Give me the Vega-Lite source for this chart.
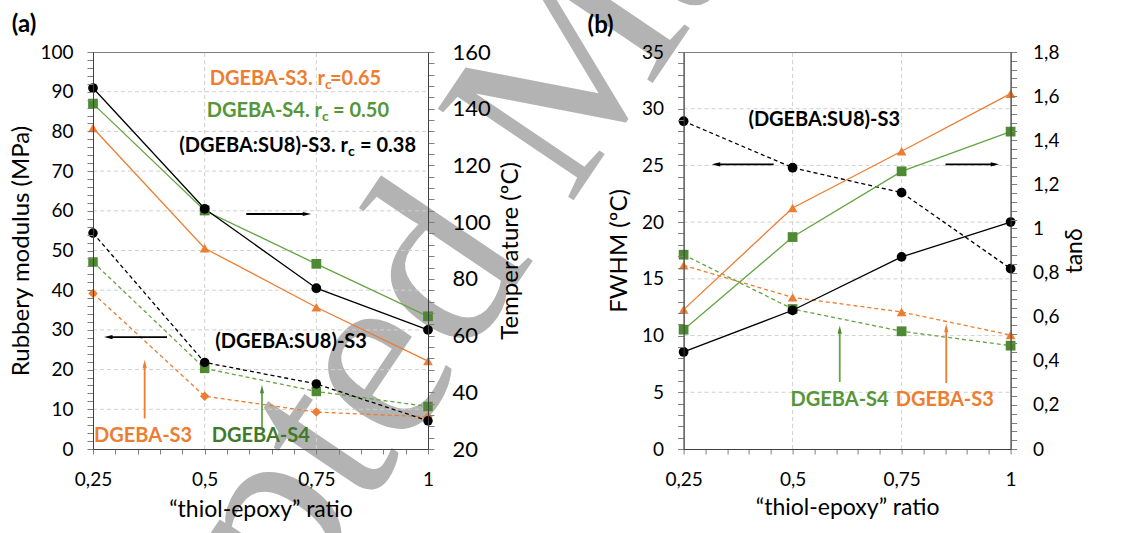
{
  "$schema": "https://vega.github.io/schema/vega-lite/v6.json",
  "background": "white",
  "autosize": {"type": "none"},
  "padding": {"left": 93, "top": 52, "right": 1030, "bottom": 481},
  "bounds": "flush",
  "spacing": 255.6,
  "datasets": {
    "wm": [{"x": 0.0568, "y": -149.0, "label": "Accepted Manuscript"}],
    "aTag": [{"x": 0.25, "y": 100, "label": "(a)"}],
    "bTag": [{"x": 0.25, "y": 35, "label": "(b)"}],
    "aGrid": [
      {"x": 0.25, "x2": 1, "y": 10, "y2": 10}, {"x": 0.25, "x2": 1, "y": 20, "y2": 20}, {"x": 0.25, "x2": 1, "y": 30, "y2": 30},
      {"x": 0.25, "x2": 1, "y": 40, "y2": 40}, {"x": 0.25, "x2": 1, "y": 50, "y2": 50}, {"x": 0.25, "x2": 1, "y": 60, "y2": 60},
      {"x": 0.25, "x2": 1, "y": 70, "y2": 70}, {"x": 0.25, "x2": 1, "y": 80, "y2": 80}, {"x": 0.25, "x2": 1, "y": 90, "y2": 90},
      {"x": 0.5, "x2": 0.5, "y": 0, "y2": 100}, {"x": 0.75, "x2": 0.75, "y": 0, "y2": 100}
    ],
    "bGrid": [
      {"x": 0.25, "x2": 1, "y": 5, "y2": 5}, {"x": 0.25, "x2": 1, "y": 10, "y2": 10}, {"x": 0.25, "x2": 1, "y": 15, "y2": 15},
      {"x": 0.25, "x2": 1, "y": 20, "y2": 20}, {"x": 0.25, "x2": 1, "y": 25, "y2": 25}, {"x": 0.25, "x2": 1, "y": 30, "y2": 30},
      {"x": 0.5, "x2": 0.5, "y": 0, "y2": 35}, {"x": 0.75, "x2": 0.75, "y": 0, "y2": 35}
    ],
    "aE": [
      {"x": 0.25, "y": 39.2, "grp": "S3"}, {"x": 0.5, "y": 13.3, "grp": "S3"}, {"x": 0.75, "y": 9.3, "grp": "S3"}, {"x": 1, "y": 8.1, "grp": "S3"},
      {"x": 0.25, "y": 47.1, "grp": "S4"}, {"x": 0.5, "y": 20.3, "grp": "S4"}, {"x": 0.75, "y": 14.5, "grp": "S4"}, {"x": 1, "y": 10.7, "grp": "S4"},
      {"x": 0.25, "y": 54.4, "grp": "SU8"}, {"x": 0.5, "y": 21.8, "grp": "SU8"}, {"x": 0.75, "y": 16.4, "grp": "SU8"}, {"x": 1, "y": 7.1, "grp": "SU8"}
    ],
    "aT": [
      {"x": 0.25, "y": 133.2, "grp": "S3"}, {"x": 0.5, "y": 90.8, "grp": "S3"}, {"x": 0.75, "y": 70.0, "grp": "S3"}, {"x": 1, "y": 51.0, "grp": "S3"},
      {"x": 0.25, "y": 141.8, "grp": "S4"}, {"x": 0.5, "y": 104.1, "grp": "S4"}, {"x": 0.75, "y": 85.3, "grp": "S4"}, {"x": 1, "y": 66.8, "grp": "S4"},
      {"x": 0.25, "y": 147.3, "grp": "SU8"}, {"x": 0.5, "y": 104.7, "grp": "SU8"}, {"x": 0.75, "y": 76.7, "grp": "SU8"}, {"x": 1, "y": 62.0, "grp": "SU8"}
    ],
    "aLbl": [
      {"x": 0.7694, "y": 93.2, "main": "DGEBA-S3. r", "sub": "c", "grp": "S3"},
      {"x": 0.7627, "y": 85.2, "main": "DGEBA-S4. r", "sub": "c", "grp": "S4t"},
      {"x": 0.8209, "y": 76.2, "main": "(DGEBA:SU8)-S3. r", "sub": "c", "grp": "SU8"}
    ],
    "aVal": [
      {"x": 0.7806, "y": 93.2, "val": "=0.65", "grp": "S3"},
      {"x": 0.7873, "y": 85.2, "val": "=\u00a00.50", "grp": "S4t"},
      {"x": 0.8477, "y": 76.2, "val": "=\u00a00.38", "grp": "SU8"}
    ],
    "aTxt": [
      {"x": 0.6935, "y": 26.9, "label": "(DGEBA:SU8)-S3", "grp": "SU8"},
      {"x": 0.3622, "y": 3.35, "label": "DGEBA-S3", "grp": "S3"},
      {"x": 0.6257, "y": 3.35, "label": "DGEBA-S4", "grp": "S4dk"}
    ],
    "aArr": [
      {"x": 0.5932, "y": 59.2, "x2": 0.729, "y2": 59.2, "grp": "SU8"},
      {"x": 0.4157, "y": 28.2, "x2": 0.2843, "y2": 28.2, "grp": "SU8"},
      {"x": 0.3656, "y": 7.7, "x2": 0.3656, "y2": 21.4, "grp": "S3"},
      {"x": 0.6283, "y": 5.2, "x2": 0.6283, "y2": 15.1, "grp": "S4"}
    ],
    "aHead": [
      {"x": 0.729, "y": 59.2, "dir": "right", "grp": "SU8"},
      {"x": 0.2843, "y": 28.2, "dir": "left", "grp": "SU8"},
      {"x": 0.3656, "y": 21.4, "dir": "up", "grp": "S3"},
      {"x": 0.6283, "y": 15.1, "dir": "up", "grp": "S4"}
    ],
    "bF": [
      {"x": 0.25, "y": 16.19, "grp": "S3"}, {"x": 0.5, "y": 13.37, "grp": "S3"}, {"x": 0.75, "y": 12.08, "grp": "S3"}, {"x": 1, "y": 10.05, "grp": "S3"},
      {"x": 0.25, "y": 17.13, "grp": "S4"}, {"x": 0.5, "y": 12.34, "grp": "S4"}, {"x": 0.75, "y": 10.38, "grp": "S4"}, {"x": 1, "y": 9.11, "grp": "S4"},
      {"x": 0.25, "y": 28.9, "grp": "SU8"}, {"x": 0.5, "y": 24.8, "grp": "SU8"}, {"x": 0.75, "y": 22.6, "grp": "SU8"}, {"x": 1, "y": 15.9, "grp": "SU8"}
    ],
    "bT": [
      {"x": 0.25, "y": 0.632, "grp": "S3"}, {"x": 0.5, "y": 1.093, "grp": "S3"}, {"x": 0.75, "y": 1.350, "grp": "S3"}, {"x": 1, "y": 1.611, "grp": "S3"},
      {"x": 0.25, "y": 0.541, "grp": "S4"}, {"x": 0.5, "y": 0.961, "grp": "S4"}, {"x": 0.75, "y": 1.259, "grp": "S4"}, {"x": 1, "y": 1.439, "grp": "S4"},
      {"x": 0.25, "y": 0.440, "grp": "SU8"}, {"x": 0.5, "y": 0.629, "grp": "SU8"}, {"x": 0.75, "y": 0.871, "grp": "SU8"}, {"x": 1, "y": 1.029, "grp": "SU8"}
    ],
    "bTxt": [
      {"x": 0.5725, "y": 28.98, "label": "(DGEBA:SU8)-S3", "grp": "SU8"},
      {"x": 0.6079, "y": 4.29, "label": "DGEBA-S4", "grp": "S4t"},
      {"x": 0.849, "y": 4.29, "label": "DGEBA-S3", "grp": "S3"}
    ],
    "bArr": [
      {"x": 0.4566, "y": 25.1, "x2": 0.3244, "y2": 25.1, "grp": "SU8"},
      {"x": 0.8508, "y": 25.1, "x2": 0.9639, "y2": 25.1, "grp": "SU8"},
      {"x": 0.6081, "y": 5.91, "x2": 0.6081, "y2": 10.52, "grp": "S4"},
      {"x": 0.8524, "y": 5.82, "x2": 0.8524, "y2": 10.67, "grp": "S3"}
    ],
    "bHead": [
      {"x": 0.3244, "y": 25.1, "dir": "left", "grp": "SU8"},
      {"x": 0.9639, "y": 25.1, "dir": "right", "grp": "SU8"},
      {"x": 0.6081, "y": 10.52, "dir": "up", "grp": "S4"},
      {"x": 0.8524, "y": 10.67, "dir": "up", "grp": "S3"}
    ]
  },
  "hconcat": [
    {
      "width": 335,
      "height": 397,
      "encoding": {
        "x": {
          "field": "x", "type": "quantitative",
          "scale": {"domain": [0.25, 1], "nice": false, "zero": false},
          "axis": {
            "zindex": 1,
            "title": "“thiol-epoxy” ratio",
            "values": [0.25, 0.3, 0.35, 0.4, 0.45, 0.5, 0.55, 0.6, 0.65, 0.7, 0.75, 0.8, 0.85, 0.9, 0.95, 1],
            "labelExpr": "indexof([0.25,0.5,0.75,1], datum.value) >= 0 ? replace(format(datum.value, '.2~f'), '.', ',') : ''",
            "grid": false, "tickSize": 5, "labelPadding": 16, "labelFontSize": 19, "titleFontSize": 23, "titlePadding": 9
          }
        }
      },
      "layer": [
        {
          "encoding": {
            "y": {
              "field": "y", "type": "quantitative",
              "scale": {"domain": [0, 100], "nice": false, "zero": false},
              "axis": {
                "zindex": 1,
                "title": "Rubbery modulus (MPa)", "orient": "left",
                "values": [0,2,4,6,8,10,12,14,16,18,20,22,24,26,28,30,32,34,36,38,40,42,44,46,48,50,52,54,56,58,60,62,64,66,68,70,72,74,76,78,80,82,84,86,88,90,92,94,96,98,100],
                "labelExpr": "datum.value % 10 === 0 ? format(datum.value, 'd') : ''",
                "grid": false,
                "tickSize": 6, "labelPadding": 14, "labelFontSize": 19, "titleFontSize": 24, "titlePadding": 6
              }
            }
          },
          "layer": [
            {
              "data": {"name": "wm"},
              "mark": {"type": "text", "align": "left", "baseline": "alphabetic", "angle": -56, "fontSize": 250, "font": "Liberation Serif", "color": "#b3b3b3"},
              "encoding": {"text": {"field": "label"}}
            },
            {
              "data": {"name": "aGrid"},
              "mark": {"type": "rule", "strokeWidth": 1, "strokeDash": [4, 3], "color": "#d0d0d0"},
              "encoding": {"x2": {"field": "x2"}, "y2": {"field": "y2"}}
            },
            {
              "data": {"name": "aTag"},
              "mark": {"type": "text", "align": "center", "baseline": "middle", "fontSize": 24, "fontWeight": "bold", "font": "Lato", "dx": -69, "dy": -27, "color": "#000000"},
              "encoding": {"text": {"field": "label"}}
            },
            {
              "data": {"name": "aE"},
              "mark": {"type": "line", "strokeDash": [4, 3], "strokeWidth": 1.3},
              "encoding": {"color": {"field": "grp", "type": "nominal", "scale": {"domain": ["S3", "S4", "SU8", "S4dk", "S4t"], "range": ["#ED7D31", "#66A443", "#000000", "#3F7A2A", "#559638"]}, "legend": null}}
            },
            {
              "data": {"name": "aE"},
              "mark": {"type": "point", "filled": true, "opacity": 1, "size": 90},
              "encoding": {
                "fill": {"field": "grp", "type": "nominal", "scale": {"domain": ["S3", "S4", "SU8"], "range": ["#ED7D31", "#4E8A32", "#000000"]}, "legend": null},
                "shape": {"field": "grp", "type": "nominal", "scale": {"domain": ["S3", "S4", "SU8"], "range": ["diamond", "square", "circle"]}, "legend": null}
              }
            },
            {
              "data": {"name": "aArr"},
              "mark": {"type": "rule", "strokeWidth": 1.8},
              "encoding": {
                "x2": {"field": "x2"}, "y2": {"field": "y2"},
                "color": {"field": "grp", "type": "nominal", "legend": null}
              }
            },
            {
              "data": {"name": "aHead"},
              "transform": [{"filter": "datum.dir === 'right'"}],
              "mark": {"type": "point", "filled": true, "opacity": 1, "size": 70, "shape": "M-1,-0.5L1,0L-1,0.5Z"},
              "encoding": {"fill": {"field": "grp", "type": "nominal", "legend": null}}
            },
            {
              "data": {"name": "aHead"},
              "transform": [{"filter": "datum.dir === 'left'"}],
              "mark": {"type": "point", "filled": true, "opacity": 1, "size": 70, "shape": "M1,-0.5L-1,0L1,0.5Z"},
              "encoding": {"fill": {"field": "grp", "type": "nominal", "legend": null}}
            },
            {
              "data": {"name": "aHead"},
              "transform": [{"filter": "datum.dir === 'up'"}],
              "mark": {"type": "point", "filled": true, "opacity": 1, "size": 70, "shape": "M-0.5,1L0,-1L0.5,1Z"},
              "encoding": {"fill": {"field": "grp", "type": "nominal", "legend": null}}
            },
            {
              "data": {"name": "aLbl"},
              "mark": {"type": "text", "align": "right", "baseline": "middle", "fontSize": 20, "fontWeight": "bold", "font": "Lato"},
              "encoding": {"text": {"field": "main"}, "color": {"field": "grp", "type": "nominal", "legend": null}}
            },
            {
              "data": {"name": "aLbl"},
              "mark": {"type": "text", "align": "left", "baseline": "middle", "fontSize": 14, "fontWeight": "bold", "font": "Lato", "dy": 6},
              "encoding": {"text": {"field": "sub"}, "color": {"field": "grp", "type": "nominal", "legend": null}}
            },
            {
              "data": {"name": "aVal"},
              "mark": {"type": "text", "align": "left", "baseline": "middle", "fontSize": 20, "fontWeight": "bold", "font": "Lato"},
              "encoding": {"text": {"field": "val"}, "color": {"field": "grp", "type": "nominal", "legend": null}}
            },
            {
              "data": {"name": "aTxt"},
              "mark": {"type": "text", "align": "center", "baseline": "middle", "fontSize": 20, "fontWeight": "bold", "font": "Lato"},
              "encoding": {"text": {"field": "label"}, "color": {"field": "grp", "type": "nominal", "legend": null}}
            }
          ]
        },
        {
          "encoding": {
            "y": {
              "field": "y", "type": "quantitative",
              "scale": {"domain": [20, 160], "nice": false, "zero": false},
              "axis": {
                "zindex": 1,
                "title": "Temperature (ºC)", "orient": "right",
                "values": [20,24,28,32,36,40,44,48,52,56,60,64,68,72,76,80,84,88,92,96,100,104,108,112,116,120,124,128,132,136,140,144,148,152,156,160],
                "labelExpr": "(datum.value - 20) % 20 === 0 ? format(datum.value, 'd') : ''",
                "grid": false, "tickSize": 6, "labelPadding": 18, "labelFontSize": 22, "titleFontSize": 24, "titlePadding": 8, "titleAngle": 270, "titleBaseline": "top"
              }
            }
          },
          "layer": [
            {
              "data": {"name": "aT"},
              "mark": {"type": "line", "strokeWidth": 1.3},
              "encoding": {"color": {"field": "grp", "type": "nominal", "legend": null}}
            },
            {
              "data": {"name": "aT"},
              "mark": {"type": "point", "filled": true, "opacity": 1, "size": 95},
              "encoding": {
                "fill": {"field": "grp", "type": "nominal", "legend": null},
                "shape": {"field": "grp", "type": "nominal", "scale": {"domain": ["S3", "S4", "SU8"], "range": ["triangle-up", "square", "circle"]}, "legend": null}
              }
            }
          ]
        }
      ],
      "resolve": {"scale": {"y": "independent", "shape": "independent"}}
    },
    {
      "width": 327,
      "height": 397,
      "encoding": {
        "x": {
          "field": "x", "type": "quantitative",
          "scale": {"domain": [0.25, 1], "nice": false, "zero": false},
          "axis": {
            "zindex": 1,
            "title": "“thiol-epoxy” ratio",
            "values": [0.25, 0.3, 0.35, 0.4, 0.45, 0.5, 0.55, 0.6, 0.65, 0.7, 0.75, 0.8, 0.85, 0.9, 0.95, 1],
            "labelExpr": "indexof([0.25,0.5,0.75,1], datum.value) >= 0 ? replace(format(datum.value, '.2~f'), '.', ',') : ''",
            "grid": false, "tickSize": 5, "labelPadding": 16, "labelFontSize": 19, "titleFontSize": 23, "titlePadding": 7
          }
        }
      },
      "layer": [
        {
          "encoding": {
            "y": {
              "field": "y", "type": "quantitative",
              "scale": {"domain": [0, 35], "nice": false, "zero": false},
              "axis": {
                "zindex": 1,
                "title": "FWHM (ºC)", "orient": "left",
                "values": [0,1,2,3,4,5,6,7,8,9,10,11,12,13,14,15,16,17,18,19,20,21,22,23,24,25,26,27,28,29,30,31,32,33,34,35],
                "labelExpr": "datum.value % 5 === 0 ? format(datum.value, 'd') : ''",
                "grid": false,
                "tickSize": 6, "labelPadding": 14, "labelFontSize": 19, "titleFontSize": 24, "titlePadding": 10
              }
            }
          },
          "layer": [
            {
              "data": {"name": "bGrid"},
              "mark": {"type": "rule", "strokeWidth": 1, "strokeDash": [4, 3], "color": "#d0d0d0"},
              "encoding": {"x2": {"field": "x2"}, "y2": {"field": "y2"}}
            },
            {
              "data": {"name": "bTag"},
              "mark": {"type": "text", "align": "center", "baseline": "middle", "fontSize": 24, "fontWeight": "bold", "font": "Lato", "dx": -83, "dy": -26, "color": "#000000"},
              "encoding": {"text": {"field": "label"}}
            },
            {
              "data": {"name": "bF"},
              "mark": {"type": "line", "strokeDash": [4, 3], "strokeWidth": 1.3},
              "encoding": {"color": {"field": "grp", "type": "nominal", "scale": {"domain": ["S3", "S4", "SU8", "S4dk", "S4t"], "range": ["#ED7D31", "#66A443", "#000000", "#3F7A2A", "#559638"]}, "legend": null}}
            },
            {
              "data": {"name": "bF"},
              "mark": {"type": "point", "filled": true, "opacity": 1, "size": 95},
              "encoding": {
                "fill": {"field": "grp", "type": "nominal", "scale": {"domain": ["S3", "S4", "SU8"], "range": ["#ED7D31", "#4E8A32", "#000000"]}, "legend": null},
                "shape": {"field": "grp", "type": "nominal", "scale": {"domain": ["S3", "S4", "SU8"], "range": ["triangle-up", "square", "circle"]}, "legend": null}
              }
            },
            {
              "data": {"name": "bArr"},
              "mark": {"type": "rule", "strokeWidth": 1.8},
              "encoding": {
                "x2": {"field": "x2"}, "y2": {"field": "y2"},
                "color": {"field": "grp", "type": "nominal", "legend": null}
              }
            },
            {
              "data": {"name": "bHead"},
              "transform": [{"filter": "datum.dir === 'right'"}],
              "mark": {"type": "point", "filled": true, "opacity": 1, "size": 70, "shape": "M-1,-0.5L1,0L-1,0.5Z"},
              "encoding": {"fill": {"field": "grp", "type": "nominal", "legend": null}}
            },
            {
              "data": {"name": "bHead"},
              "transform": [{"filter": "datum.dir === 'left'"}],
              "mark": {"type": "point", "filled": true, "opacity": 1, "size": 70, "shape": "M1,-0.5L-1,0L1,0.5Z"},
              "encoding": {"fill": {"field": "grp", "type": "nominal", "legend": null}}
            },
            {
              "data": {"name": "bHead"},
              "transform": [{"filter": "datum.dir === 'up'"}],
              "mark": {"type": "point", "filled": true, "opacity": 1, "size": 70, "shape": "M-0.5,1L0,-1L0.5,1Z"},
              "encoding": {"fill": {"field": "grp", "type": "nominal", "legend": null}}
            },
            {
              "data": {"name": "bTxt"},
              "mark": {"type": "text", "align": "center", "baseline": "middle", "fontSize": 20, "fontWeight": "bold", "font": "Lato"},
              "encoding": {"text": {"field": "label"}, "color": {"field": "grp", "type": "nominal", "legend": null}}
            }
          ]
        },
        {
          "encoding": {
            "y": {
              "field": "y", "type": "quantitative",
              "scale": {"domain": [0, 1.8], "nice": false, "zero": false},
              "axis": {
                "zindex": 1,
                "title": "tanδ", "orient": "right",
                "values": [0,0.04,0.08,0.12,0.16,0.2,0.24,0.28,0.32,0.36,0.4,0.44,0.48,0.52,0.56,0.6,0.64,0.68,0.72,0.76,0.8,0.84,0.88,0.92,0.96,1,1.04,1.08,1.12,1.16,1.2,1.24,1.28,1.32,1.36,1.4,1.44,1.48,1.52,1.56,1.6,1.64,1.68,1.72,1.76,1.8],
                "labelExpr": "abs(datum.value * 5 - round(datum.value * 5)) < 0.000001 ? replace(format(datum.value, '.1~f'), '.', ',') : ''",
                "grid": false, "tickSize": 6, "labelPadding": 16, "labelFontSize": 19, "titleFontSize": 23, "titlePadding": 5, "titleAngle": 270, "titleBaseline": "top"
              }
            }
          },
          "layer": [
            {
              "data": {"name": "bT"},
              "mark": {"type": "line", "strokeWidth": 1.3},
              "encoding": {"color": {"field": "grp", "type": "nominal", "legend": null}}
            },
            {
              "data": {"name": "bT"},
              "mark": {"type": "point", "filled": true, "opacity": 1, "size": 95},
              "encoding": {
                "fill": {"field": "grp", "type": "nominal", "legend": null},
                "shape": {"field": "grp", "type": "nominal", "scale": {"domain": ["S3", "S4", "SU8"], "range": ["triangle-up", "square", "circle"]}, "legend": null}
              }
            }
          ]
        }
      ],
      "resolve": {"scale": {"y": "independent", "shape": "independent"}}
    }
  ],
  "resolve": {"scale": {"color": "independent", "fill": "independent", "shape": "independent"}},
  "config": {
    "font": "Lato",
    "view": {"stroke": "#7f7f7f", "strokeWidth": 1},
    "axis": {
      "labelFont": "Lato", "titleFont": "Lato", "labelColor": "#000000", "titleColor": "#000000",
      "titleFontWeight": "normal", "domainColor": "#404040", "tickColor": "#7f7f7f",
      "labelOverlap": false, "labelFlush": false, "labelBound": false
    }
  }
}
